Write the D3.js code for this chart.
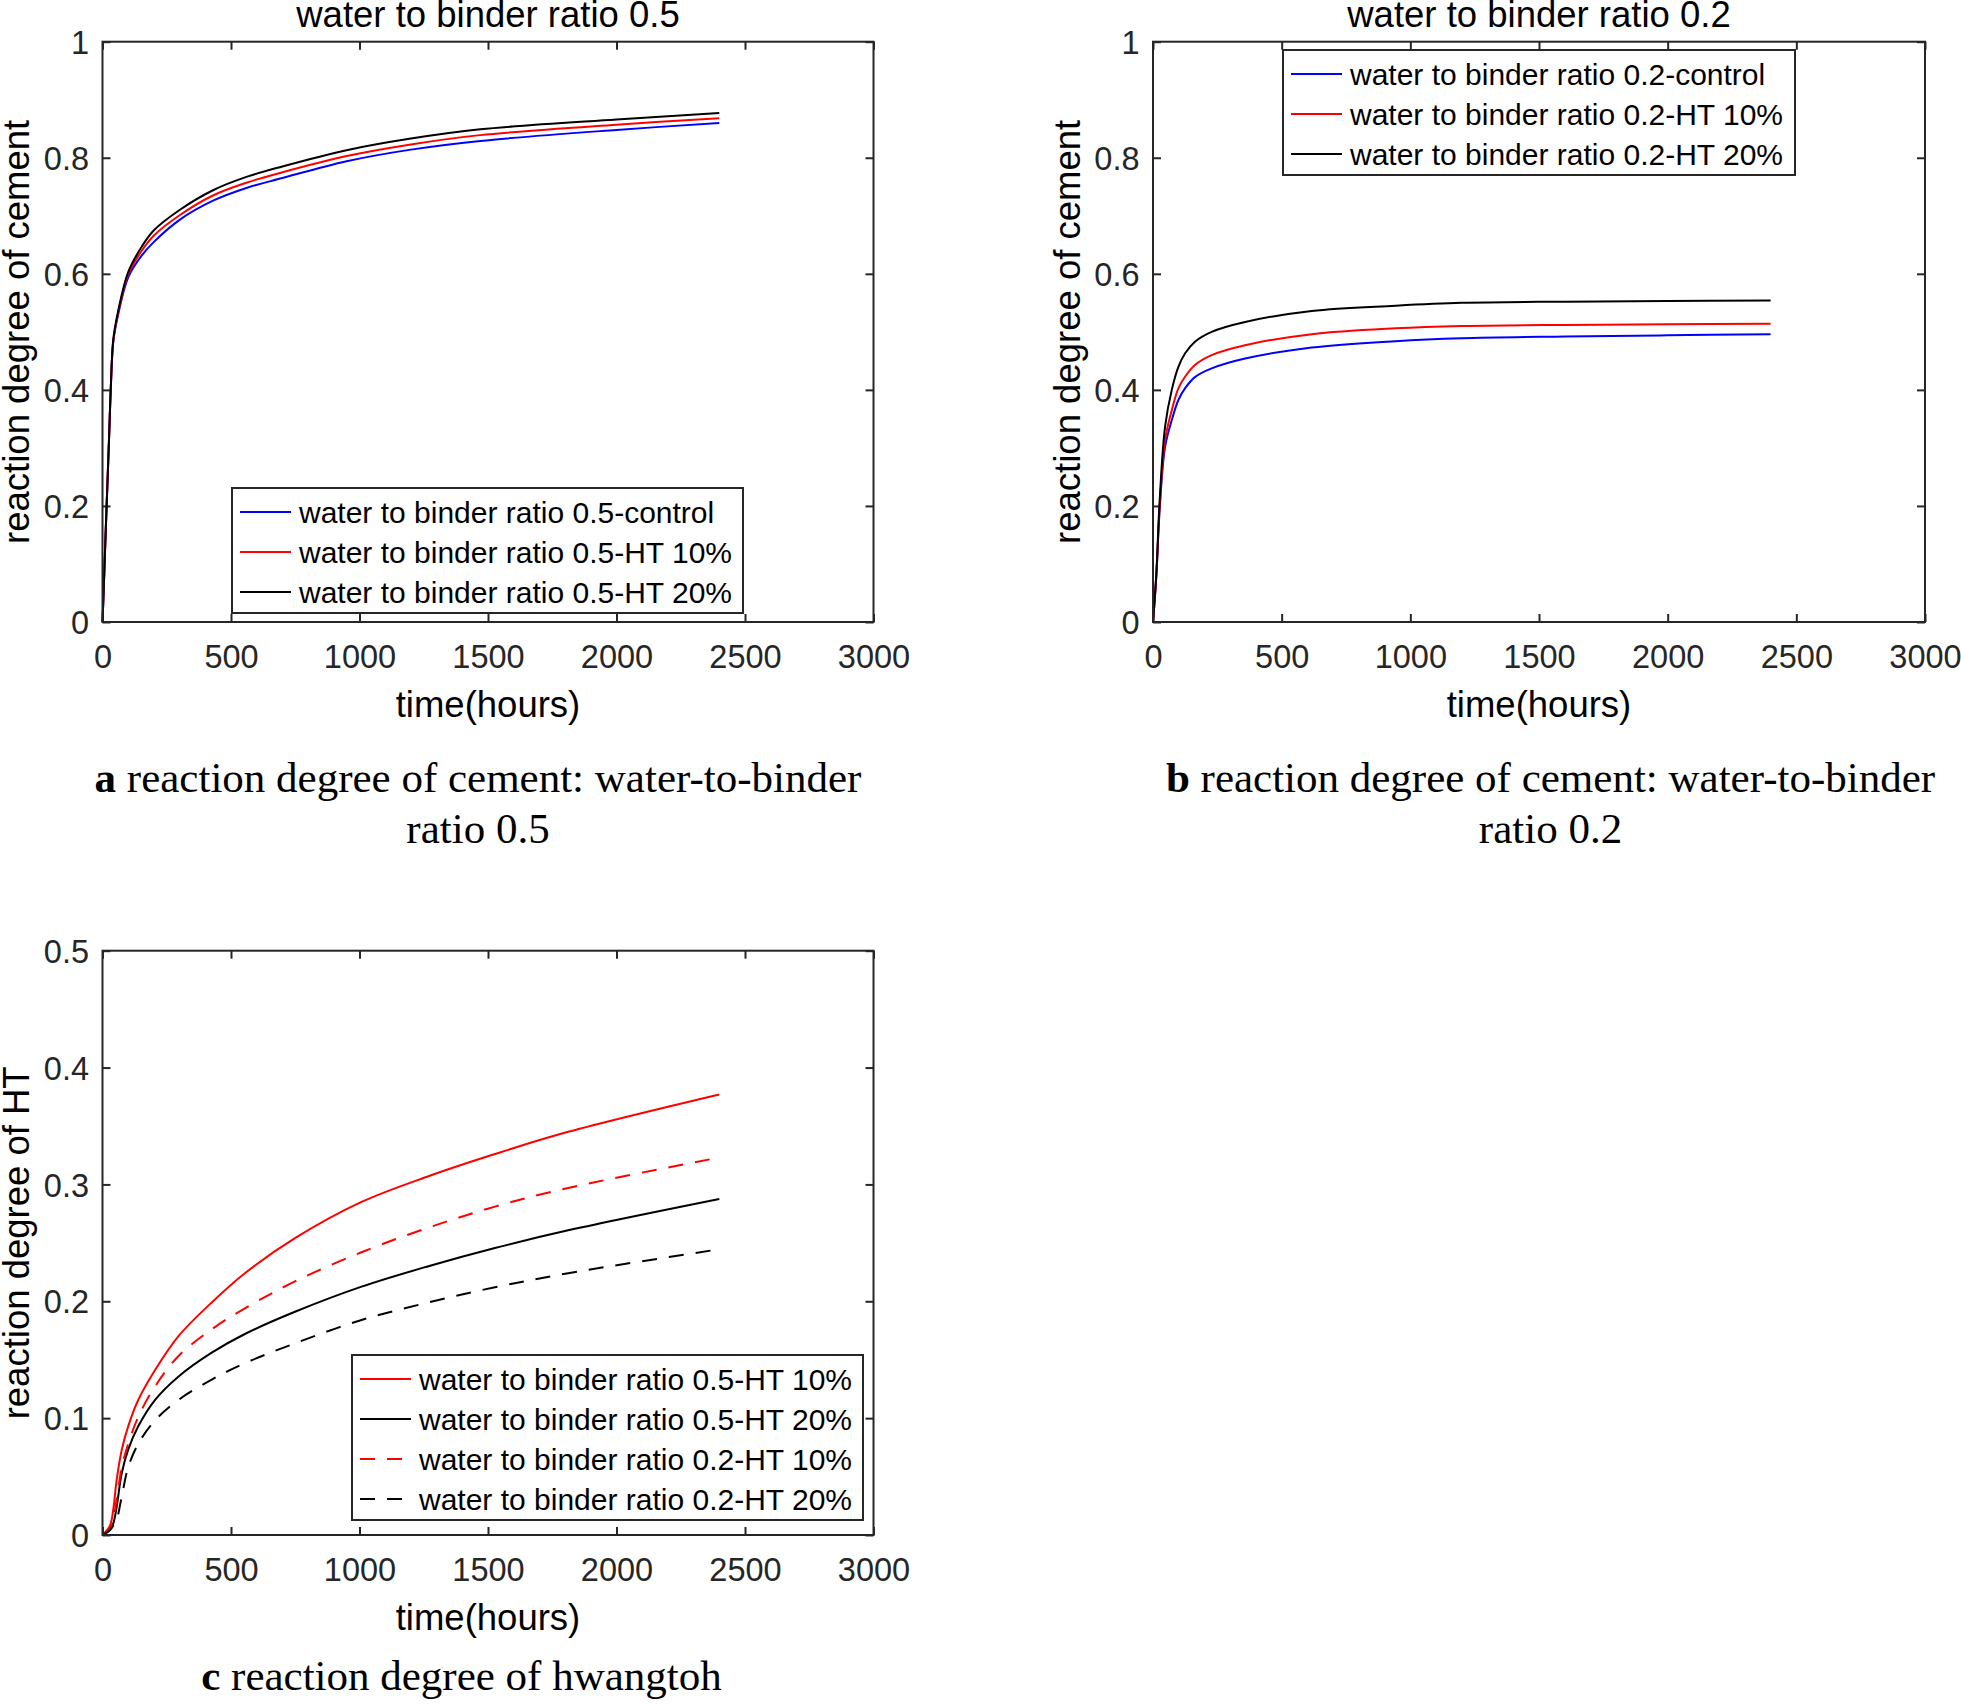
<!DOCTYPE html>
<html>
<head>
<meta charset="utf-8">
<script src="https://cdn.jsdelivr.net/npm/d3@7"></script>
<style>
  html, body { margin: 0; padding: 0; background: #fff; }
  svg { display: block; }
</style>
</head>
<body>
<script>
// ---------------- data ----------------
const xTicks = [0, 500, 1000, 1500, 2000, 2500, 3000];
const yTicksCement = [0, 0.2, 0.4, 0.6, 0.8, 1];
const yTicksHT = [0, 0.1, 0.2, 0.3, 0.4, 0.5];

// panel a : w/b 0.5, cement
const timeA = [0, 5, 10, 16, 25, 32, 42, 60, 100, 150, 200, 300, 430, 560, 700, 950, 1200, 1470, 2000, 2400];
const a_control = [0, 0.06, 0.125, 0.2, 0.31, 0.4, 0.483, 0.528, 0.594, 0.630, 0.655, 0.693, 0.726, 0.748, 0.765, 0.794, 0.814, 0.829, 0.848, 0.860];
const a_ht10    = [0, 0.06, 0.125, 0.2, 0.31, 0.4, 0.485, 0.531, 0.599, 0.638, 0.666, 0.701, 0.735, 0.757, 0.775, 0.803, 0.823, 0.839, 0.857, 0.868];
const a_ht20    = [0, 0.06, 0.125, 0.2, 0.31, 0.4, 0.487, 0.534, 0.603, 0.645, 0.675, 0.710, 0.744, 0.767, 0.785, 0.813, 0.833, 0.849, 0.866, 0.877];

// panel b : w/b 0.2, cement
const timeB = [0, 13, 26, 47, 73, 99, 125, 163, 228, 358, 617, 942, 1200, 1600, 2000, 2400];
const b_control = [0, 0.08, 0.195, 0.302, 0.348, 0.383, 0.403, 0.422, 0.437, 0.454, 0.473, 0.484, 0.489, 0.492, 0.494, 0.496];
const b_ht10    = [0, 0.08, 0.200, 0.314, 0.365, 0.403, 0.423, 0.443, 0.460, 0.477, 0.496, 0.506, 0.510, 0.512, 0.513, 0.514];
const b_ht20    = [0, 0.084, 0.210, 0.337, 0.400, 0.440, 0.463, 0.483, 0.500, 0.517, 0.536, 0.545, 0.550, 0.552, 0.553, 0.554];

// panel c : hwangtoh
const timeC = [0, 29, 42, 55, 75, 100, 139, 204, 295, 425, 554, 749, 1008, 1268, 1527, 1812, 2400];
const c_05_10 = [0, 0.008, 0.022, 0.047, 0.073, 0.093, 0.1155, 0.141, 0.170, 0.199, 0.224, 0.254, 0.285, 0.307, 0.326, 0.345, 0.377];
const c_05_20 = [0, 0.005, 0.010, 0.024, 0.053, 0.073, 0.093, 0.1155, 0.1355, 0.156, 0.172, 0.191, 0.2125, 0.230, 0.2456, 0.2607, 0.2875];
const c_02_10 = [0, 0.006, 0.014, 0.030, 0.058, 0.078, 0.101, 0.127, 0.153, 0.176, 0.194, 0.217, 0.242, 0.263, 0.281, 0.297, 0.323];
const c_02_20 = [0, 0.004, 0.008, 0.013, 0.033, 0.058, 0.078, 0.098, 0.1155, 0.133, 0.147, 0.164, 0.184, 0.199, 0.212, 0.224, 0.2445];

const namesA = ["water to binder ratio 0.5-control", "water to binder ratio 0.5-HT 10%", "water to binder ratio 0.5-HT 20%"];
const namesB = ["water to binder ratio 0.2-control", "water to binder ratio 0.2-HT 10%", "water to binder ratio 0.2-HT 20%"];
const namesC = ["water to binder ratio 0.5-HT 10%", "water to binder ratio 0.5-HT 20%", "water to binder ratio 0.2-HT 10%", "water to binder ratio 0.2-HT 20%"];

// ---------------- drawing ----------------
const W = 1961, H = 1707;
const SANS = "'Liberation Sans', Arial, sans-serif";
const SERIF = "'Liberation Serif', 'Times New Roman', serif";
const AX = "#262626";

const svg = d3.select("body").append("svg")
  .attr("width", W).attr("height", H)
  .attr("viewBox", `0 0 ${W} ${H}`);
svg.append("rect").attr("width", W).attr("height", H).attr("fill", "#fff");

function panel(cfg) {
  const x = d3.scaleLinear().domain([0, 3000]).range([cfg.left, cfg.right]);
  const y = d3.scaleLinear().domain(cfg.yDomain).range([cfg.bottom, cfg.top]);
  const g = svg.append("g");

  const tickLen = 8;
  const bottom = g.append("g").attr("transform", `translate(0,${cfg.bottom})`)
    .call(d3.axisBottom(x).tickValues(xTicks).tickSizeInner(-tickLen).tickSizeOuter(0).tickPadding(0).tickFormat(d3.format("d")));
  bottom.select(".domain").remove();
  bottom.selectAll(".tick line").attr("stroke", AX).attr("stroke-width", 2);
  bottom.selectAll(".tick text").attr("y", 46).attr("dy", 0)
    .attr("font-family", SANS).attr("font-size", 32.5).attr("fill", AX);
  const top = g.append("g").attr("transform", `translate(0,${cfg.top})`)
    .call(d3.axisTop(x).tickValues(xTicks).tickSizeInner(-tickLen).tickSizeOuter(0).tickFormat(""));
  top.select(".domain").remove();
  top.selectAll(".tick line").attr("stroke", AX).attr("stroke-width", 2);

  const left = g.append("g").attr("transform", `translate(${cfg.left},0)`)
    .call(d3.axisLeft(y).tickValues(cfg.yTicks).tickSizeInner(-tickLen).tickSizeOuter(0).tickPadding(0).tickFormat(d => d3.format("~g")(d)));
  left.select(".domain").remove();
  left.selectAll(".tick line").attr("stroke", AX).attr("stroke-width", 2);
  left.selectAll(".tick text").attr("x", -13.5).attr("dy", "0.36em")
    .attr("font-family", SANS).attr("font-size", 32.5).attr("fill", AX);
  const right = g.append("g").attr("transform", `translate(${cfg.right},0)`)
    .call(d3.axisRight(y).tickValues(cfg.yTicks).tickSizeInner(-tickLen).tickSizeOuter(0).tickFormat(""));
  right.select(".domain").remove();
  right.selectAll(".tick line").attr("stroke", AX).attr("stroke-width", 2);

  const line = d3.line().x(d => x(d[0])).y(d => y(d[1])).curve(d3.curveCatmullRom.alpha(0.5));
  cfg.series.forEach(s => {
    const pts = cfg.time.map((t, i) => [t, s.values[i]]);
    g.append("path").datum(pts).attr("d", line)
      .attr("fill", "none").attr("stroke", s.color).attr("stroke-width", 2)
      .attr("stroke-dasharray", s.dash || null);
  });

  g.append("rect").attr("x", cfg.left).attr("y", cfg.top)
    .attr("width", cfg.right - cfg.left).attr("height", cfg.bottom - cfg.top)
    .attr("fill", "none").attr("stroke", AX).attr("stroke-width", 2);

  const L = cfg.legend;
  const n = cfg.series.length;
  const lg = g.append("g");
  lg.append("rect").attr("x", L.x).attr("y", L.y).attr("width", L.w).attr("height", 40 * n + 5)
    .attr("fill", "#fff").attr("stroke", AX).attr("stroke-width", 2);
  cfg.series.forEach((s, i) => {
    const cy = L.y + 24 + i * 40;
    lg.append("line").attr("x1", L.x + 8).attr("x2", L.x + 59).attr("y1", cy).attr("y2", cy)
      .attr("stroke", s.color).attr("stroke-width", 2).attr("stroke-dasharray", s.dash || null);
    lg.append("text").attr("x", L.x + 67).attr("y", cy).attr("dy", "0.36em")
      .attr("font-family", SANS).attr("font-size", 30).attr("fill", "#000").text(s.name);
  });

  const cx = (cfg.left + cfg.right) / 2;
  if (cfg.title) {
    g.append("text").attr("x", cx).attr("y", 27).attr("text-anchor", "middle")
      .attr("font-family", SANS).attr("font-size", 36.5).attr("fill", "#000").text(cfg.title);
  }
  g.append("text").attr("x", cx).attr("y", cfg.bottom + 95).attr("text-anchor", "middle")
    .attr("font-family", SANS).attr("font-size", 36.5).attr("fill", "#000").text("time(hours)");
  const ly = (cfg.top + cfg.bottom) / 2;
  g.append("text").attr("transform", `translate(${cfg.left - 73.5},${ly}) rotate(-90)`)
    .attr("text-anchor", "middle")
    .attr("font-family", SANS).attr("font-size", 36.5).attr("fill", "#000").text(cfg.ylabel);

  cfg.caption.lines.forEach((ln, i) => {
    const t = g.append("text").attr("x", cfg.caption.x).attr("y", cfg.caption.y + i * 51)
      .attr("text-anchor", "middle").attr("font-family", SERIF).attr("font-size", 43).attr("fill", "#000");
    if (ln.bold) t.append("tspan").attr("font-weight", "bold").text(ln.bold);
    t.append("tspan").text(ln.text);
  });
}

panel({
  left: 102.5, right: 873.5, top: 41.7, bottom: 622,
  yDomain: [0, 1], yTicks: yTicksCement, time: timeA,
  title: "water to binder ratio 0.5", ylabel: "reaction degree of cement",
  series: [
    { name: namesA[0], values: a_control, color: "#0000ff" },
    { name: namesA[1], values: a_ht10, color: "#ff0000" },
    { name: namesA[2], values: a_ht20, color: "#000000" }
  ],
  legend: { x: 232, y: 488, w: 511 },
  caption: { x: 478, y: 792, lines: [{ bold: "a", text: " reaction degree of cement: water-to-binder" }, { text: "ratio 0.5" }] }
});

panel({
  left: 1153, right: 1925, top: 41.7, bottom: 622,
  yDomain: [0, 1], yTicks: yTicksCement, time: timeB,
  title: "water to binder ratio 0.2", ylabel: "reaction degree of cement",
  series: [
    { name: namesB[0], values: b_control, color: "#0000ff" },
    { name: namesB[1], values: b_ht10, color: "#ff0000" },
    { name: namesB[2], values: b_ht20, color: "#000000" }
  ],
  legend: { x: 1283, y: 50, w: 512 },
  caption: { x: 1550.5, y: 792, lines: [{ bold: "b", text: " reaction degree of cement: water-to-binder" }, { text: "ratio 0.2" }] }
});

panel({
  left: 102.5, right: 873.5, top: 950.7, bottom: 1535,
  yDomain: [0, 0.5], yTicks: yTicksHT, time: timeC,
  title: null, ylabel: "reaction degree of HT",
  series: [
    { name: namesC[0], values: c_05_10, color: "#ff0000" },
    { name: namesC[1], values: c_05_20, color: "#000000" },
    { name: namesC[2], values: c_02_10, color: "#ff0000", dash: "15,12" },
    { name: namesC[3], values: c_02_20, color: "#000000", dash: "15,12" }
  ],
  legend: { x: 352, y: 1355, w: 511 },
  caption: { x: 461.5, y: 1690, lines: [{ bold: "c", text: " reaction degree of hwangtoh" }] }
});
</script>
</body>
</html>
